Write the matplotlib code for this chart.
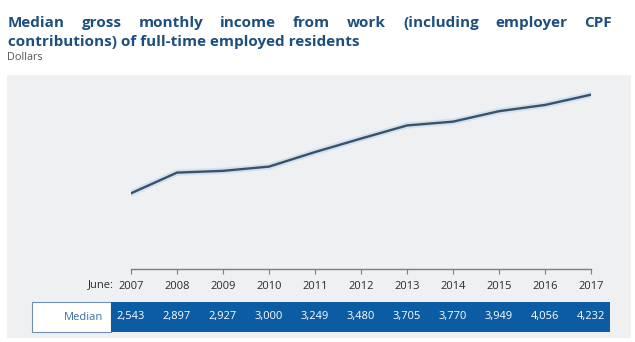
import matplotlib
matplotlib.use('Agg')
import matplotlib.pyplot as plt
from matplotlib.patches import Rectangle

# median gross monthly income (dollars), June of each year
years = [2007, 2008, 2009, 2010, 2011, 2012, 2013, 2014, 2015, 2016, 2017]
median = [2543, 2897, 2927, 3000, 3249, 3480, 3705, 3770, 3949, 4056, 4232]
value_labels = ['2,543', '2,897', '2,927', '3,000', '3,249', '3,480',
                '3,705', '3,770', '3,949', '4,056', '4,232']

title_line1 = 'Median gross monthly income from work (including employer CPF'
title_line2 = 'contributions) of full-time employed residents'
subtitle = 'Dollars'

W, H = 635, 342
TITLE_BLUE = '#1d4f7e'
TABLE_BLUE = '#0b5ca3'
LINE_COL = '#3b5169'
FONT = ['Open Sans', 'DejaVu Sans']

plt.rcParams['font.family'] = FONT

fig = plt.figure(figsize=(W / 100, H / 100), dpi=100)
fig.patch.set_facecolor('white')


def px(x, y):
    # pixel position (from top-left) -> figure fraction
    return x / W, 1 - y / H


def box(x0, y0, x1, y1, **kw):
    fx, fy = px(x0, y1)
    fig.patches.append(Rectangle((fx, fy), (x1 - x0) / W, (y1 - y0) / H,
                                 transform=fig.transFigure, **kw))


# grey panel behind chart and table
box(7, 75, 631, 338, facecolor='#eff0f2', edgecolor='none', zorder=-2)

# chart area: x from 2007 to 2017 tick, bottom on the axis line
l, b = px(131, 269)
r, t = px(591, 75)
ax = fig.add_axes([l, b, r - l, t - b], zorder=2)
ax.set_facecolor('none')
ax.plot(years, median, color='#cfe2f0', lw=4.5, solid_capstyle='round', zorder=2)
ax.plot(years, median, color=LINE_COL, lw=1.7, zorder=3)
ax.set_xlim(2007, 2017)
ax.set_ylim(1246, 4569)
for side in ['top', 'right', 'left']:
    ax.spines[side].set_visible(False)
ax.spines['bottom'].set_color('#7d7d7d')
ax.spines['bottom'].set_linewidth(1.0)
ax.set_yticks([])
ax.set_xticks(years)
ax.tick_params(axis='x', direction='out', length=3.5, width=0.8, color='#7d7d7d',
               labelsize=8, labelcolor='#2b2b2b', pad=5)
ax.set_xticklabels([str(y) for y in years])
fig.text(*px(114, 285), 'June:', ha='right', va='center', fontsize=8, color='#2b2b2b')

# table row with values
box(32, 302, 111, 332, facecolor='white', edgecolor='#6f8fb3', lw=0.8, zorder=-1)
box(111, 302, 610, 332, facecolor=TABLE_BLUE, edgecolor='none', zorder=-1)
fig.text(*px(103, 317), 'Median', ha='right', va='center', fontsize=8, color='#3a6ea8')
for yr, lab in zip(years, value_labels):
    xf = ax.transData.transform((yr, 0))[0] / fig.bbox.width
    fig.text(xf, px(0, 317)[1], lab, ha='center', va='center', fontsize=8, color='white')

# title: first line justified between margins, second line flush left
fig.canvas.draw()
renderer = fig.canvas.get_renderer()
tkw = dict(fontsize=11, fontweight='bold', color=TITLE_BLUE, va='baseline')
words = title_line1.split()
x_left, x_right = 8, 612
objs = [fig.text(0, 0, w, **tkw) for w in words]
widths = [o.get_window_extent(renderer).width for o in objs]
gap = (x_right - x_left - sum(widths)) / (len(words) - 1)
x = x_left
for o, w in zip(objs, widths):
    o.set_position(px(x, 27))
    x += w + gap
fig.text(*px(8, 46), title_line2, **tkw)
fig.text(*px(7, 60), subtitle, fontsize=7.8, color='#555555', va='baseline')

fig.savefig('out.png', dpi=100)
